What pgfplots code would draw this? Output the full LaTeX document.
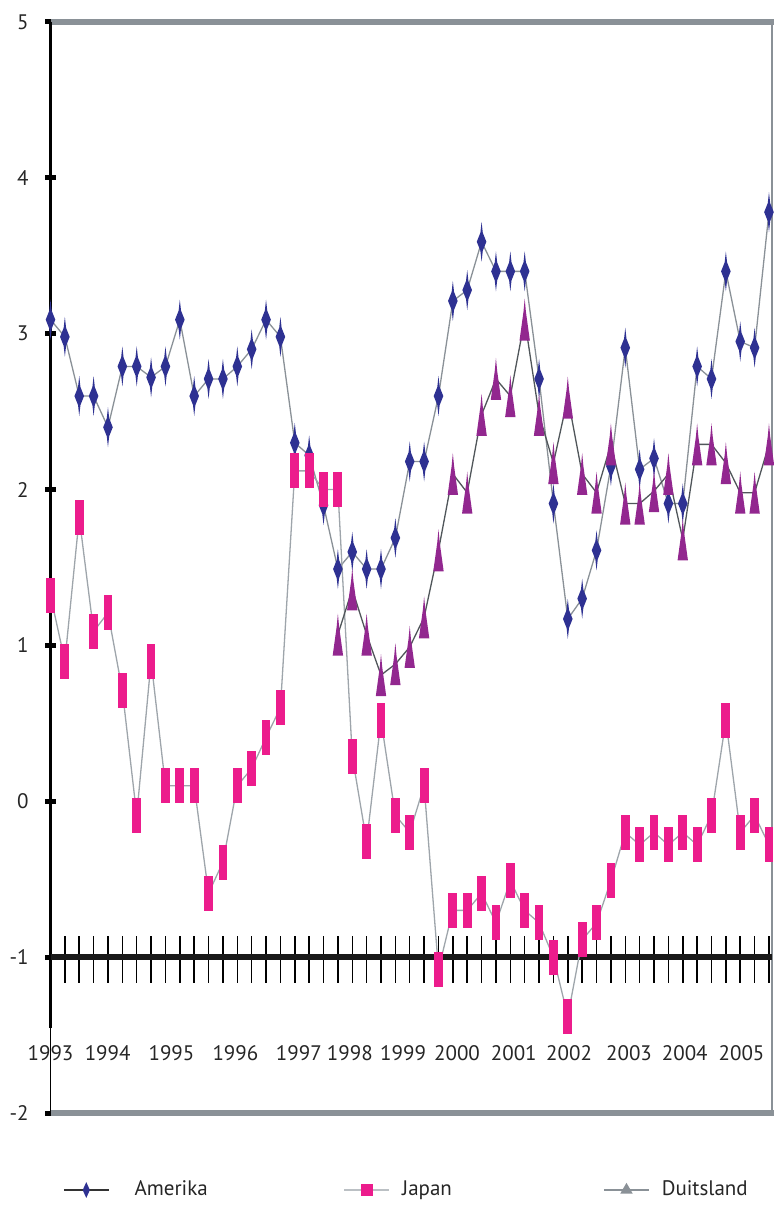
\documentclass[border=0pt]{standalone}
\usepackage{fontspec}
\setmainfont{PT Sans}
\usepackage{pgfplots}
\usepackage{pgfplotstable}
\pgfplotsset{compat=1.18}
\definecolor{amblue}{HTML}{2E3192}
\definecolor{jppink}{HTML}{EC1C8C}
\definecolor{depurple}{HTML}{92278F}
\definecolor{framegray}{HTML}{8A9197}
\definecolor{amline}{HTML}{8A9197}
\definecolor{jpline}{HTML}{9EA5AB}
\definecolor{deline}{HTML}{50565A}

\pgfdeclareplotmark{amd}{%
 \pgfpathmoveto{\pgfqpoint{0pt}{10pt}}%
 \pgfpathlineto{\pgfqpoint{0.6pt}{4.5pt}}%
 \pgfpathlineto{\pgfqpoint{2.4pt}{0pt}}%
 \pgfpathlineto{\pgfqpoint{0.6pt}{-4.5pt}}%
 \pgfpathlineto{\pgfqpoint{0pt}{-10pt}}%
 \pgfpathlineto{\pgfqpoint{-0.6pt}{-4.5pt}}%
 \pgfpathlineto{\pgfqpoint{-2.4pt}{0pt}}%
 \pgfpathlineto{\pgfqpoint{-0.6pt}{4.5pt}}%
 \pgfpathclose\pgfusepathqfill}
\pgfdeclareplotmark{jpr}{%
 \pgfpathrectangle{\pgfqpoint{-2.2pt}{-8.75pt}}{\pgfqpoint{4.4pt}{17.5pt}}%
 \pgfusepathqfill}
\pgfdeclareplotmark{det}{%
 \pgfpathmoveto{\pgfqpoint{0pt}{10.5pt}}%
 \pgfpathlineto{\pgfqpoint{0.6pt}{4pt}}%
 \pgfpathlineto{\pgfqpoint{2.6pt}{-10.5pt}}%
 \pgfpathlineto{\pgfqpoint{-2.6pt}{-10.5pt}}%
 \pgfpathlineto{\pgfqpoint{-0.6pt}{4pt}}%
 \pgfpathclose\pgfusepathqfill}

\pgfplotstableread{
i v
0 3.09
1 2.98
2 2.60
3 2.60
4 2.40
5 2.79
6 2.79
7 2.72
8 2.79
9 3.09
10 2.60
11 2.71
12 2.71
13 2.79
14 2.90
15 3.09
16 2.98
17 2.30
18 2.22
19 1.90
20 1.49
21 1.60
22 1.49
23 1.49
24 1.69
25 2.18
26 2.18
27 2.60
28 3.21
29 3.28
30 3.59
31 3.40
32 3.40
33 3.40
34 2.71
35 1.91
36 1.17
37 1.30
38 1.61
39 2.15
40 2.91
41 2.13
42 2.20
43 1.91
44 1.91
45 2.79
46 2.71
47 3.40
48 2.95
49 2.91
50 3.78
}\amerika

\pgfplotstableread{
i v
0 1.32
1 0.90
2 1.82
3 1.09
4 1.21
5 0.71
6 -0.09
7 0.90
8 0.10
9 0.10
10 0.10
11 -0.59
12 -0.39
13 0.10
14 0.21
15 0.41
16 0.60
17 2.12
18 2.12
19 2.00
20 2.00
21 0.29
22 -0.26
23 0.52
24 -0.09
25 -0.20
26 0.10
27 -1.08
28 -0.70
29 -0.70
30 -0.59
31 -0.78
32 -0.51
33 -0.70
34 -0.78
35 -1.00
36 -1.38
37 -0.89
38 -0.78
39 -0.51
40 -0.20
41 -0.28
42 -0.20
43 -0.28
44 -0.20
45 -0.28
46 -0.09
47 0.52
48 -0.20
49 -0.09
50 -0.28
}\japan

\pgfplotstableread{
i v
20 1.07
21 1.36
22 1.07
23 0.81
24 0.88
25 0.99
26 1.18
27 1.61
28 2.10
29 1.98
30 2.48
31 2.71
32 2.60
33 3.09
34 2.48
35 2.17
36 2.59
37 2.10
38 1.98
39 2.29
40 1.91
41 1.91
42 1.99
43 2.10
44 1.68
45 2.29
46 2.29
47 2.17
48 1.98
49 1.98
50 2.29
}\duitsland

\begin{document}
\begin{tikzpicture}
\useasboundingbox (0,0) rectangle (387pt,602.5pt);
\begin{axis}[
  at={(25.25pt,46pt)}, anchor=south west,
  scale only axis, width=360.75pt, height=545.5pt,
  xmin=0, xmax=50.21, ymin=-2, ymax=5,
  clip=false,
  axis line style={draw=none},
  font=\fontsize{10.5}{12}\selectfont,
  /pgf/number format/assume math mode=true,
  ytick={-2,-1,0,1,2,3,4,5},
  yticklabels={-2,-1,0,1,2,3,4,5},
  ytick pos=left,
  tick align=center,
  major tick length=5.5pt,
  ytick style={black, line width=2.5pt},
  yticklabel style={anchor=east, inner sep=0pt, xshift=-8pt, text=black!85},
  xtick={0,3.98,8.42,12.87,17.28,20.83,24.54,28.29,32.24,36.09,40.26,44.14,48.09},
  xticklabels={1993,1994,1995,1996,1997,1998,1999,2000,2001,2002,2003,2004,2005},
  xtick style={draw=none},
  xticklabel style={anchor=center, inner sep=0pt, yshift=32.75pt, text=black!85},
  legend columns=3,
  legend style={at={(0.0173,-0.0706)}, anchor=west, draw=none, fill=none,
    inner sep=0pt, outer sep=0pt, /tikz/column sep=0pt,
    nodes={inner sep=0pt, text=black!85}},
  legend image code/.code={%
    \draw[mark repeat=2,mark phase=2,#1] plot coordinates {(0pt,0pt) (11.25pt,0pt) (22.5pt,0pt)};},
]
% frame
\draw[framegray, line width=2.65pt] (rel axis cs:0,1) -- (rel axis cs:1.0035,1);
\draw[framegray, line width=2.8pt] (rel axis cs:0,0) -- (rel axis cs:1.0035,0);
\draw[framegray, line width=1.3pt] (rel axis cs:1,0) -- (rel axis cs:1,1);
\draw[black, line width=1.1pt] (axis cs:0,5) -- (axis cs:0,-1.455);
\draw[black, line width=0.4pt] (axis cs:0,-1.455) -- (axis cs:0,-2);
% x axis at -1
\pgfplotsinvokeforeach{1,...,50}{%
  \draw[black, line width=0.75pt] (axis cs:#1,-0.865) -- (axis cs:#1,-1.167);
}
\draw[black!90, line width=2.8pt] (axis cs:0,-1) -- (axis cs:50.21,-1);

\addplot[amline, line width=0.65pt, mark=amd, mark options={fill=amblue, draw=none}, forget plot] table[x=i,y=v] {\amerika};
\addplot[jpline, line width=0.65pt, mark=jpr, mark options={fill=jppink, draw=none}, forget plot] table[x=i,y=v] {\japan};
\addplot[deline, line width=0.65pt, mark=det, mark options={fill=depurple, draw=none}, forget plot] table[x=i,y=v] {\duitsland};

\addlegendimage{black!80, line width=0.8pt, mark=diamond*, mark size=3pt, mark options={amblue, fill=amblue, xscale=0.6}}
\addlegendentry{\hspace{12.5pt}\makebox[104.5pt][l]{Amerika}}
\addlegendimage{jpline!70, line width=0.8pt, mark=square*, mark size=2.5pt, mark options={jppink, fill=jppink}}
\addlegendentry{\hspace{6pt}\makebox[100.5pt][l]{Japan}}
\addlegendimage{framegray, line width=0.8pt, mark=triangle*, mark size=2.8pt, mark options={framegray, fill=framegray}}
\addlegendentry{\hspace{6pt}Duitsland}
\end{axis}
\end{tikzpicture}
\end{document}
